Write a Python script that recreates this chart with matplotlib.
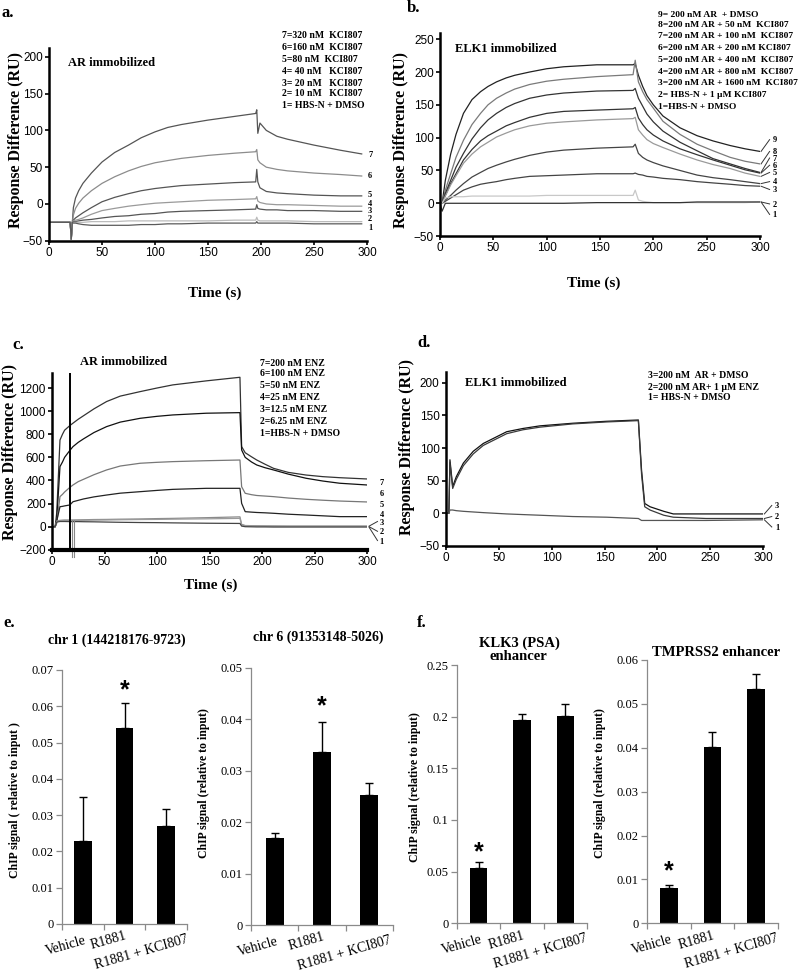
import matplotlib
matplotlib.use('Agg')
import matplotlib.pyplot as plt

SERIF = 'Liberation Serif'
SANS = 'Liberation Sans'

# ---------------- panel a : AR immobilized, KCI807 titration ----------------
a_time = [0, 20, 21, 22, 23, 25, 28, 32, 40, 50, 62, 75, 87, 100, 112, 125, 150, 175,
          195, 196, 197, 199, 205, 215, 225, 250, 275, 295]
a_c7 = [-25, -25, -48, -25, -5, 8, 18, 28, 42, 57, 70, 80, 90, 98, 104, 108, 114, 119,
        123, 128, 96, 110, 100, 92, 88, 80, 73, 68]
a_c6 = [-25, -25, -48, -25, -15, -6, 1, 8, 18, 28, 37, 45, 51, 56, 59, 62, 66, 69,
        71, 74, 60, 56, 50, 47, 45, 42, 40, 38]
a_c5 = [-25, -25, -48, -25, -22, -19, -16, -12, -5, 3, 9, 14, 18, 21, 23, 25, 27, 29,
        30, 47, 30, 22, 17, 15, 14, 12, 11, 11]
a_c4 = [-25, -25, -48, -25, -23, -22, -21, -19, -14, -9, -6, -3, -1, 1, 2, 3, 5, 6,
        7, 10, 4, 2, 0, -1, -1, -2, -3, -3]
a_c3 = [-25, -25, -48, -25, -24, -24, -23, -22, -21, -19, -17, -16, -14, -13, -11, -10, -9, -8,
        -7, -1, -6, -7, -8, -8, -9, -9, -10, -10]
a_c2 = [-25, -25, -48, -25, -25, -25, -25, -25, -24, -24, -24, -23, -23, -23, -23, -23, -23, -22,
        -22, -18, -22, -23, -23, -23, -23, -24, -24, -24]
a_c1 = [-25, -25, -48, -25, -26, -26, -27, -28, -29, -29, -29, -29, -28, -28, -27, -27, -26, -26,
        -26, -24, -26, -26, -26, -26, -26, -27, -27, -27]
a_legend = ['7=320 nM  KCI807', '6=160 nM  KCI807', '5=80 nM  KCI807', '4= 40 nM   KCI807',
            '3= 20 nM   KCI807', '2= 10 nM   KCI807', '1= HBS-N + DMSO']

# ---------------- panel b : ELK1 immobilized, AR + KCI807 ----------------
b_time = [0, 2, 5, 10, 15, 22, 30, 38, 45, 53, 62, 70, 84, 100, 116, 147, 181, 183,
          186, 190, 194, 200, 209, 225, 241, 256, 272, 286, 300]
b_c9 = [0, 0, 35, 75, 105, 137, 158, 170, 178, 185, 191, 195, 200, 205, 208, 211, 211, 213,
        195, 178, 164, 150, 133, 115, 103, 95, 88, 83, 79]
b_c8 = [0, 0, 20, 45, 70, 96, 120, 137, 150, 160, 168, 174, 181, 186, 189, 193, 196, 218,
        185, 170, 158, 145, 125, 105, 90, 80, 70, 64, 60]
b_c7 = [0, 0, 15, 35, 55, 76, 98, 115, 127, 137, 146, 152, 160, 165, 168, 171, 172, 175,
        160, 148, 136, 124, 110, 93, 80, 68, 60, 53, 47]
b_c6 = [0, 0, 12, 30, 45, 66, 82, 95, 103, 110, 118, 123, 131, 137, 140, 142, 144, 146,
        130, 120, 112, 104, 95, 83, 74, 66, 58, 51, 46]
b_c5 = [0, 0, 11, 28, 42, 61, 75, 86, 93, 101, 107, 112, 118, 122, 124, 127, 129, 131,
        112, 104, 97, 91, 85, 75, 66, 59, 53, 46, 41]
b_c4 = [0, 0, 5, 12, 20, 30, 40, 47, 53, 58, 63, 67, 73, 78, 81, 84, 86, 90,
        76, 70, 66, 62, 57, 50, 43, 39, 36, 33, 30]
b_c3 = [0, 0, 3, 8, 13, 20, 25, 29, 31, 33, 36, 38, 41, 42, 43, 45, 45, 46,
        44, 43, 41, 40, 38, 36, 33, 31, 29, 27, 26]
b_c2 = [0, 0, 8, 10, 10, 10, 11, 11, 11, 11, 11, 11, 11, 12, 12, 12, 12, 20,
        5, 3, 2, 1, 1, 1, 1, 1, 1, 1, 2]
b_c1 = [0, -12, 0, 0, 0, 0, 0, 0, 0, 0, 0, 0, 0, 0, 0, 1, 1, 1,
        1, 1, 1, 1, 1, 1, 2, 2, 2, 2, 2]
b_legend = ['9= 200 nM AR  + DMSO', '8=200 nM AR + 50 nM  KCI807', '7=200 nM AR + 100 nM  KCI807',
            '6=200 nM AR + 200 nM KCI807', '5=200 nM AR + 400 nM  KCI807', '4=200 nM AR + 800 nM  KCI807',
            '3=200 nM AR + 1600 nM  KCI807', '2= HBS-N + 1 \u00b5M KCI807', '1=HBS-N + DMSO']

# ---------------- panel c : AR immobilized, ENZ titration ----------------
c_time = [0, 3, 4.5, 7.6, 10, 12, 17, 20, 25, 30, 40, 52, 65, 84, 100, 115, 147, 179,
          180.6, 184, 190, 195, 203, 211, 225, 242, 258, 274, 300]
c_c7 = [0, 0, 118, 750, 800, 835, 875, 896, 930, 960, 1020, 1083, 1130, 1169, 1200, 1227, 1262, 1293,
        693, 640, 605, 577, 540, 505, 470, 447, 433, 424, 413]
c_c6 = [0, 0, 58, 520, 560, 600, 660, 693, 730, 760, 815, 866, 905, 938, 955, 967, 982, 987,
        664, 600, 560, 534, 510, 491, 455, 419, 395, 376, 361]
c_c5 = [0, 0, 30, 260, 280, 300, 340, 361, 390, 410, 450, 491, 525, 549, 557, 563, 571, 577,
        346, 289, 277, 270, 265, 260, 248, 237, 229, 222, 214]
c_c4 = [0, 0, 50, 173, 176, 180, 188, 216, 228, 240, 258, 274, 290, 303, 314, 323, 332, 332,
        202, 130, 126, 123, 120, 116, 108, 101, 94, 87, 87]
c_c3 = [0, 0, 50, 55, 57, 58, 58, 58, 59, 60, 62, 63, 65, 67, 70, 72, 78, 85,
        20, 10, 9, 8, 7, 6, 5, 5, 5, 5, 5]
c_c2 = [0, 0, 45, 50, 51, 52, 52, 53, 54, 55, 57, 58, 60, 62, 63, 65, 68, 72,
        15, 8, 7, 6, 5, 5, 4, 4, 4, 4, 4]
c_c1 = [0, 0, 40, 45, 45, 45, 44, 44, 44, 43, 42, 40, 38, 36, 35, 33, 30, 28,
        5, 0, -1, -2, -2, -3, -3, -3, -3, -3, -3]
c_legend = ['7=200 nM ENZ', '6=100 nM ENZ', '5=50 nM ENZ', '4=25 nM ENZ',
            '3=12.5 nM ENZ', '2=6.25 nM ENZ', '1=HBS-N + DMSO']

# ---------------- panel d : ELK1 immobilized, AR + ENZ ----------------
d_time = [0, 3, 4, 6.6, 10, 16.7, 26, 35.5, 57.6, 73, 89, 120, 152, 182, 185, 188, 193, 206, 215, 246, 300]
d_c3 = [0, 0, 82, 41, 56, 77, 95, 107, 125, 130, 134, 138, 141, 143, 66, 15, 10, 3, -1, -1, -1]
d_c2 = [0, 0, 78, 38, 52, 73, 91, 104, 122, 128, 132, 137, 140, 142, 60, 10, 5, -3, -6, -8, -8]
d_c1 = [0, 0, 5, 5, 4, 3, 2, 1, -1, -2, -3, -5, -6, -8, -11, -11, -11, -11, -11, -11, -10]
d_legend = ['3=200 nM  AR + DMSO', '2=200 nM AR+ 1 \u00b5M ENZ', '1= HBS-N + DMSO']

# ---------------- panels e, f : ChIP ----------------
treatments = ['Vehicle', 'R1881', 'R1881 + KCI807']
chr1_mean = [0.023, 0.054, 0.027]
chr1_err = [0.012, 0.007, 0.0048]
chr6_mean = [0.0169, 0.0336, 0.0253]
chr6_err = [0.0010, 0.0059, 0.0023]
klk3_mean = [0.054, 0.197, 0.201]
klk3_err = [0.005, 0.006, 0.011]
tmprss2_mean = [0.0080, 0.0402, 0.0535]
tmprss2_err = [0.0007, 0.0035, 0.0032]

W, H = 800, 973
fig = plt.figure(figsize=(W / 100, H / 100), dpi=100)
fig.patch.set_facecolor('white')


def px_axes(left, top, right, bottom):
    return fig.add_axes([left / W, 1 - bottom / H, (right - left) / W, (bottom - top) / H])


def ftext(x, y, s, **kw):
    kw.setdefault('family', SERIF)
    fig.text(x / W, 1 - y / H, s, **kw)


def sensor_style(ax, ylim, yticks):
    ax.set_xlim(0, 300)
    ax.set_ylim(*ylim)
    ax.set_xticks(range(0, 301, 50))
    ax.set_yticks(yticks)
    for s in ['top', 'right']:
        ax.spines[s].set_visible(False)
    for s in ['left', 'bottom']:
        ax.spines[s].set_linewidth(1.8)
    ax.tick_params(direction='out', length=3, width=1.2, labelsize=8.5, pad=1.5)
    for lab in ax.get_xticklabels() + ax.get_yticklabels():
        lab.set_family(SANS)


def number_labels(ax, tx, ys, names, size=6):
    for y, n in zip(ys, names):
        ax.text(tx, y, n, fontsize=size, family=SERIF, fontweight='bold',
                va='center', ha='left', clip_on=False)


def legend_block(x, ys, lines, size=7):
    for y, s in zip(ys, lines):
        ftext(x, y, s, fontsize=size, fontweight='bold', va='center')


# ---- a
ax = px_axes(49, 48, 367, 240.75)
a_cols = ['#555555', '#8c8c8c', '#555555', '#9a9a9a', '#555555', '#bbbbbb', '#5a5a5a']
for c, col in zip([a_c7, a_c6, a_c5, a_c4, a_c3, a_c2, a_c1], a_cols):
    ax.plot(a_time, c, color=col, lw=0.9)
sensor_style(ax, (-50, 212), range(-50, 201, 50))
number_labels(ax, 301, [67, 38, 12, 0, -9, -21, -33], ['7', '6', '5', '4', '3', '2', '1'])
legend_block(282, [35, 48, 60, 72, 83, 94, 106], a_legend)
ftext(68, 63, 'AR immobilized', fontsize=9, fontweight='bold', va='center')
ftext(16, 140, 'Response Difference (RU)', fontsize=11.5, fontweight='bold', rotation=90, ha='center', va='center')
ftext(215, 293, 'Time (s)', fontsize=11, fontweight='bold', ha='center', va='center')
ftext(2, 13, 'a.', fontsize=12, fontweight='bold', va='center')

# ---- b
ax = px_axes(440, 33.3, 760, 236.1)
b_curves = [b_c9, b_c8, b_c7, b_c6, b_c5, b_c4, b_c3, b_c2, b_c1]
b_cols = ['#222222', '#7a7a7a', '#333333', '#333333', '#9a9a9a', '#444444', '#444444', '#c8c8c8', '#333333']
b_lab = [96, 78, 68, 57, 46, 32, 20, -2, -18]
for c, col, ly in zip(b_curves, b_cols, b_lab):
    ax.plot(b_time, c, color=col, lw=0.9)
    ax.plot([301, 309], [c[-1], ly + 1], color='#333333', lw=0.7, clip_on=False)
sensor_style(ax, (-50, 259), range(-50, 251, 50))
number_labels(ax, 312, b_lab, ['9', '8', '7', '6', '5', '4', '3', '2', '1'])
legend_block(658, [15, 25, 36, 48, 60, 72, 83, 95, 107], b_legend, size=6.8)
ftext(455, 49, 'ELK1 immobilized', fontsize=9, fontweight='bold', va='center')
ftext(401, 140, 'Response Difference (RU)', fontsize=11.5, fontweight='bold', rotation=90, ha='center', va='center')
ftext(594, 283, 'Time (s)', fontsize=11, fontweight='bold', ha='center', va='center')
ftext(407, 8, 'b.', fontsize=12, fontweight='bold', va='center')

# ---- c
ax = px_axes(52, 373, 367, 549.8)
c_curves = [c_c7, c_c6, c_c5, c_c4, c_c3, c_c2, c_c1]
c_cols = ['#333333', '#111111', '#777777', '#222222', '#8a8a8a', '#9a9a9a', '#444444']
for c, col in zip(c_curves, c_cols):
    ax.plot(c_time, c, color=col, lw=0.9)
ax.plot([17.5, 17.5], [-200, 1330], color='black', lw=1.4)
ax.plot([19, 19], [-260, 60], color='#888888', lw=0.8, clip_on=False)
ax.plot([21, 21], [-260, 60], color='#888888', lw=0.8, clip_on=False)
sensor_style(ax, (-200, 1330), range(-200, 1201, 200))
ax.spines['bottom'].set_linewidth(3)
c_lab = [380, 280, 190, 100, 30, -50, -130]
number_labels(ax, 312, c_lab, ['7', '6', '5', '4', '3', '2', '1'])
for y0, y1 in [(5, 45), (0, -40), (-5, -120)]:
    ax.plot([302, 310], [y0, y1], color='#333333', lw=0.7, clip_on=False)
legend_block(260, [363, 374, 386, 397, 409, 421, 433], c_legend)
ftext(80, 362, 'AR immobilized', fontsize=9, fontweight='bold', va='center')
ftext(10, 452, 'Response Difference (RU)', fontsize=11.5, fontweight='bold', rotation=90, ha='center', va='center')
ftext(211, 585, 'Time (s)', fontsize=11, fontweight='bold', ha='center', va='center')
ftext(12, 345, 'c.', fontsize=12, fontweight='bold', va='center')

# ---- d
ax = px_axes(445.7, 371.7, 763.3, 545.9)
for c, col in zip([d_c3, d_c2, d_c1], ['#111111', '#3a3a3a', '#555555']):
    ax.plot(d_time, c, color=col, lw=0.9)
sensor_style(ax, (-50, 217), range(-50, 201, 50))
d_lab = [11, -6, -22]
number_labels(ax, 311, d_lab, ['3', '2', '1'])
for c, ly in zip([d_c3, d_c2, d_c1], d_lab):
    ax.plot([301, 308], [c[-1], ly + 1], color='#333333', lw=0.7, clip_on=False)
legend_block(648, [376, 387, 398], d_legend)
ftext(465, 383, 'ELK1 immobilized', fontsize=9, fontweight='bold', va='center')
ftext(407, 447, 'Response Difference (RU)', fontsize=11.5, fontweight='bold', rotation=90, ha='center', va='center')
ftext(417, 343, 'd.', fontsize=12, fontweight='bold', va='center')


# ---- bar panels
def bar_panel(box, mean, err, ylim, step, ylabel, ylabel_pos, star_idx, star_y, width=0.42):
    ax = px_axes(*box)
    x = range(len(mean))
    ax.bar(x, mean, width=width, color='black', zorder=2)
    ax.errorbar(x, mean, yerr=[[0] * len(err), err], fmt='none', ecolor='black',
                elinewidth=1.0, capsize=3, capthick=1.0, zorder=1)
    ax.set_xlim(-0.5, len(mean) - 0.5)
    ax.set_ylim(*ylim)
    n = int(round(ylim[1] / step))
    ticks = [i * step for i in range(n + 1)]
    ax.set_yticks(ticks)
    ax.set_yticklabels([('%g' % t) for t in ticks], family=SERIF, fontsize=9)
    ax.set_xticks([i - 0.5 for i in range(len(mean) + 1)])
    ax.set_xticklabels([])
    for s in ['top', 'right']:
        ax.spines[s].set_visible(False)
    for s in ['left', 'bottom']:
        ax.spines[s].set_color('#8a8a8a')
        ax.spines[s].set_linewidth(0.9)
    ax.tick_params(axis='y', direction='out', length=4, width=0.9, color='#8a8a8a', pad=2)
    ax.tick_params(axis='x', direction='out', length=4, width=0.9, color='#8a8a8a')
    offs = [(1, -7), (0, -4), (14, -6)]
    for i, (lab, (dx, dy)) in enumerate(zip(treatments, offs)):
        ax.annotate(lab, xy=(i, 0), xycoords=('data', 'axes fraction'), xytext=(dx, dy),
                    textcoords='offset points', rotation=16, rotation_mode='anchor',
                    ha='right', va='top', fontsize=10, family=SERIF)
    ax.text(star_idx, star_y, '*', ha='center', va='center', fontsize=18,
            fontweight='bold', family=SANS)
    ftext(ylabel_pos[0], ylabel_pos[1], ylabel, fontsize=8.5, fontweight='bold',
          rotation=90, ha='center', va='center')
    return ax


bar_panel((62, 670, 187, 924), chr1_mean, chr1_err, (0, 0.07), 0.01,
          'ChIP signal ( relative to input )', (15, 800), 1, 0.0645)
bar_panel((251, 668, 393, 925), chr6_mean, chr6_err, (0, 0.05), 0.01,
          'ChIP signal (relative to input)', (204, 783), 1, 0.0425, width=0.38)
bar_panel((457, 665, 587, 923.3), klk3_mean, klk3_err, (0, 0.25), 0.05,
          'ChIP signal (relative to input)', (415, 787), 0, 0.069, width=0.4)
bar_panel((647, 660, 778, 923.3), tmprss2_mean, tmprss2_err, (0, 0.06), 0.01,
          'ChIP signal (relative to input)', (600, 783), 0, 0.0118, width=0.4)

ftext(3, 623, 'e.', fontsize=12, fontweight='bold', va='center')
ftext(117, 640, 'chr 1 (144218176-9723)', fontsize=10, fontweight='bold', ha='center', va='center')
ftext(318, 637, 'chr 6 (91353148-5026)', fontsize=10, fontweight='bold', ha='center', va='center')
ftext(417, 623, 'f.', fontsize=12, fontweight='bold', va='center')
ftext(519, 643, 'KLK3 (PSA)', fontsize=10.5, fontweight='bold', ha='center', va='center')
ftext(518, 656, 'enhancer', fontsize=10.5, fontweight='bold', ha='center', va='center')
ftext(716, 652, 'TMPRSS2 enhancer', fontsize=10.5, fontweight='bold', ha='center', va='center')

fig.savefig('out.png', dpi=100, facecolor='white')
